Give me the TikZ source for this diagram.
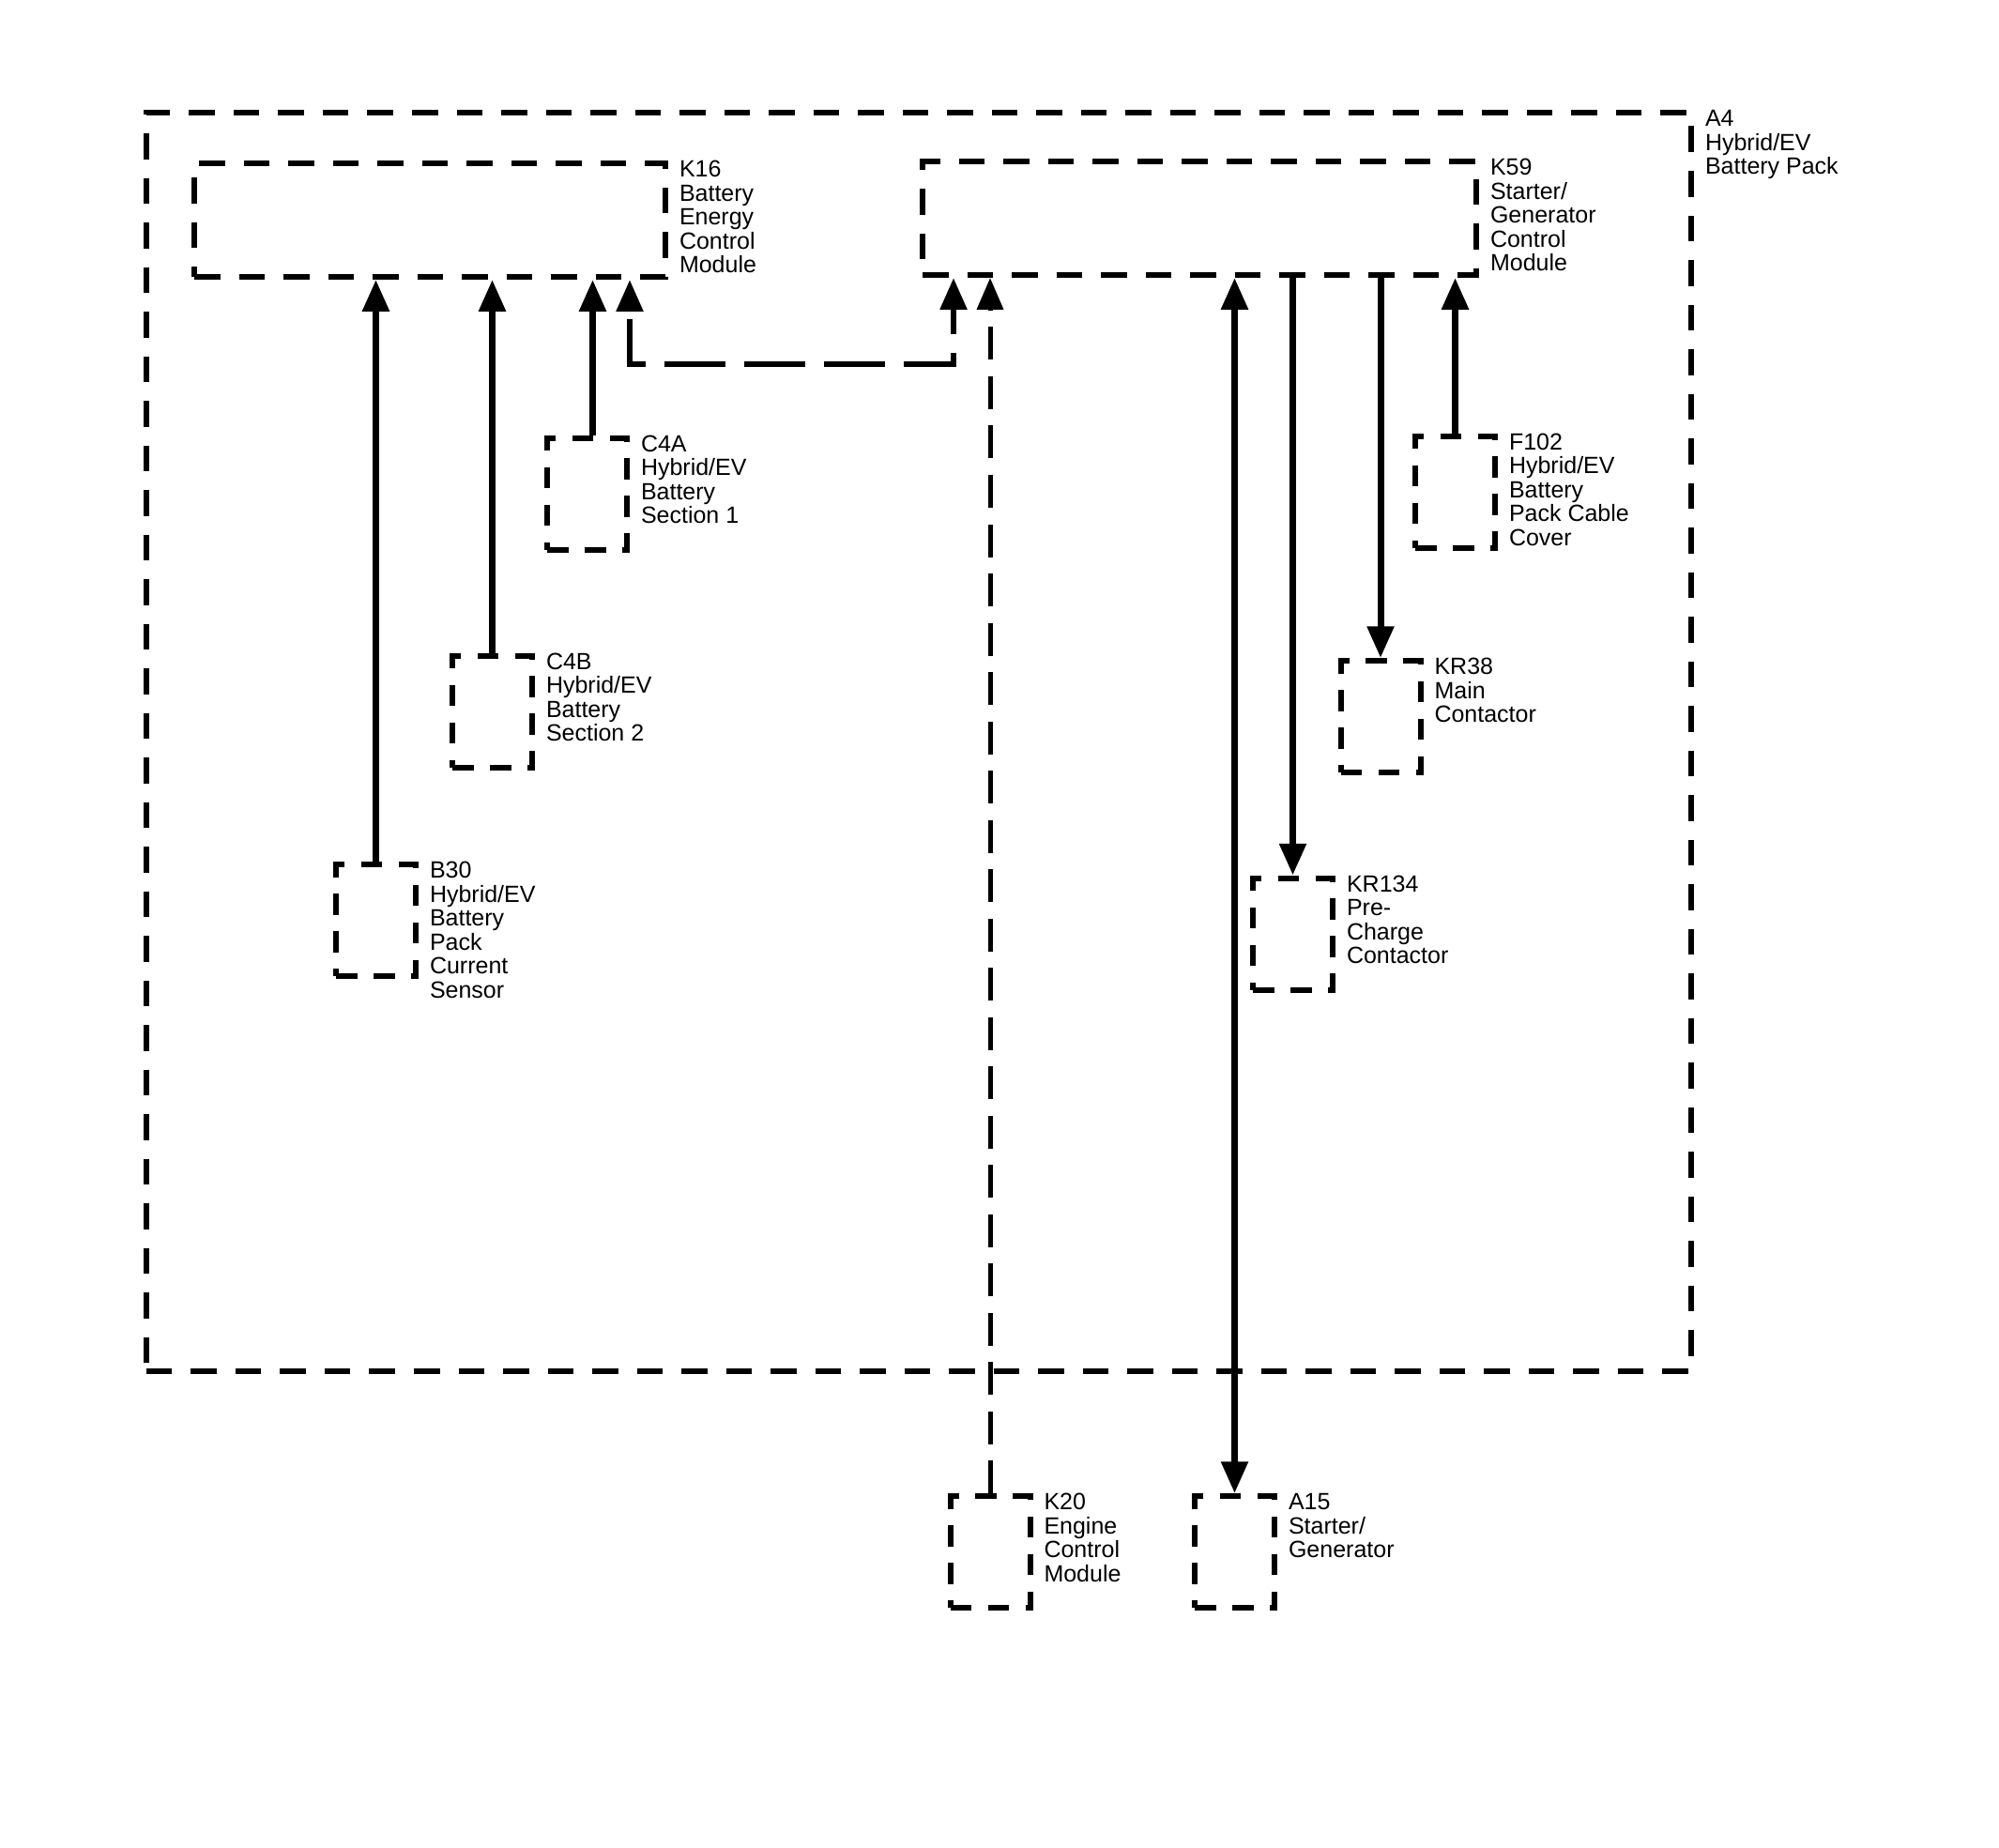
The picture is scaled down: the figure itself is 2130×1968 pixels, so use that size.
\documentclass[tikz,border=0pt]{standalone}
\usepackage{fontspec}
\setmainfont{Liberation Sans}
\usetikzlibrary{arrows.meta}

\tikzset{
  compbox/.style={draw, line width=2.4pt, dash pattern=on 9pt off 7pt,
    minimum width=34pt, minimum height=47.6pt, inner sep=0pt},
  modbox/.style={compbox, dash pattern=on 11pt off 8pt},
  tag/.style={anchor=north west, inner sep=0pt, align=left,
    font=\fontsize{10}{10.2}\selectfont},
  wire/.style={line width=2.8pt},
  buswire/.style={line width=2.6pt, dash pattern=on 26pt off 8pt, dash phase=30pt},
  datawire/.style={line width=2pt, dash pattern=on 14pt off 7pt},
  >={Triangle[width=11pt,length=13.5pt]}
}

\begin{document}
\begin{tikzpicture}[x=0.4pt,y=-0.4pt]
            \useasboundingbox (0,0) rectangle (2130,1968);

            % pack and modules
            \node[modbox, minimum width=658.4pt, minimum height=536.4pt] (a4) at (979,790.5) {};
            \node[modbox, minimum width=200.8pt, minimum height=48.4pt] (k16) at (458,234.5) {};
            \node[modbox, minimum width=236pt, minimum height=48.4pt] (k59) at (1278,232.5) {};

            \node[compbox] (c4a) at (625.5,526) {};
            \node[compbox] (c4b) at (524.5,758) {};
            \node[compbox] (b30) at (400.5,980.5) {};
            \node[compbox] (f102) at (1550.5,524) {};
            \node[compbox] (kr38) at (1471,763.5) {};
            \node[compbox] (kr134) at (1377.5,995) {};
            \node[compbox] (k20) at (1055,1653.5) {};
            \node[compbox] (a15) at (1315.5,1653.5) {};

            % labels
            \node[tag] (a4-t) at ([xshift=4.6pt]a4.north east) {A4\\Hybrid/EV\\Battery Pack};
            \node[tag] (k16-t) at ([xshift=4.6pt]k16.north east) {K16\\Battery\\Energy\\Control\\Module};
            \node[tag] (k59-t) at ([xshift=4.6pt]k59.north east) {K59\\Starter/\\Generator\\Control\\Module};
            \node[tag] (c4a-t) at ([xshift=4.6pt]c4a.north east) {C4A\\Hybrid/EV\\Battery\\Section 1};
            \node[tag] (c4b-t) at ([xshift=4.6pt]c4b.north east) {C4B\\Hybrid/EV\\Battery\\Section 2};
            \node[tag] (b30-t) at ([xshift=4.6pt]b30.north east) {B30\\Hybrid/EV\\Battery\\Pack\\Current\\Sensor};
            \node[tag] (f102-t) at ([xshift=4.6pt]f102.north east) {F102\\Hybrid/EV\\Battery\\Pack Cable\\Cover};
            \node[tag] (kr38-t) at ([xshift=4.6pt]kr38.north east) {KR38\\Main\\Contactor};
            \node[tag] (kr134-t) at ([xshift=4.6pt]kr134.north east) {KR134\\Pre-\\Charge\\Contactor};
            \node[tag] (k20-t) at ([xshift=4.6pt]k20.north east) {K20\\Engine\\Control\\Module};
            \node[tag] (a15-t) at ([xshift=4.6pt]a15.north east) {A15\\Starter/\\Generator};

            % connections
            \draw[wire,->] (b30.north) -- (b30.north |- k16.south);
            \draw[wire,->] (c4b.north) -- (c4b.north |- k16.south);
            \draw[wire,->] ([xshift=2.4pt]c4a.north) -- ([xshift=2.4pt]c4a.north |- k16.south);

            \coordinate (busl) at (671,388);
            \coordinate (busr) at (1016,388);
            \draw[buswire,<->] (busl |- k16.south) -- (busl) -- (busr) -- (busr |- k59.south);

            \draw[datawire,->] (k20.north) -- (k20.north |- k59.south);
            \draw[wire,<->] (a15.north |- k59.south) -- (a15.north);
            \draw[wire,->] (kr134.north |- k59.south) -- (kr134.north);
            \draw[wire,->] (kr38.north |- k59.south) -- (kr38.north);
            \draw[wire,->] (f102.north) -- (f102.north |- k59.south);
        \end{tikzpicture}
\end{document}
